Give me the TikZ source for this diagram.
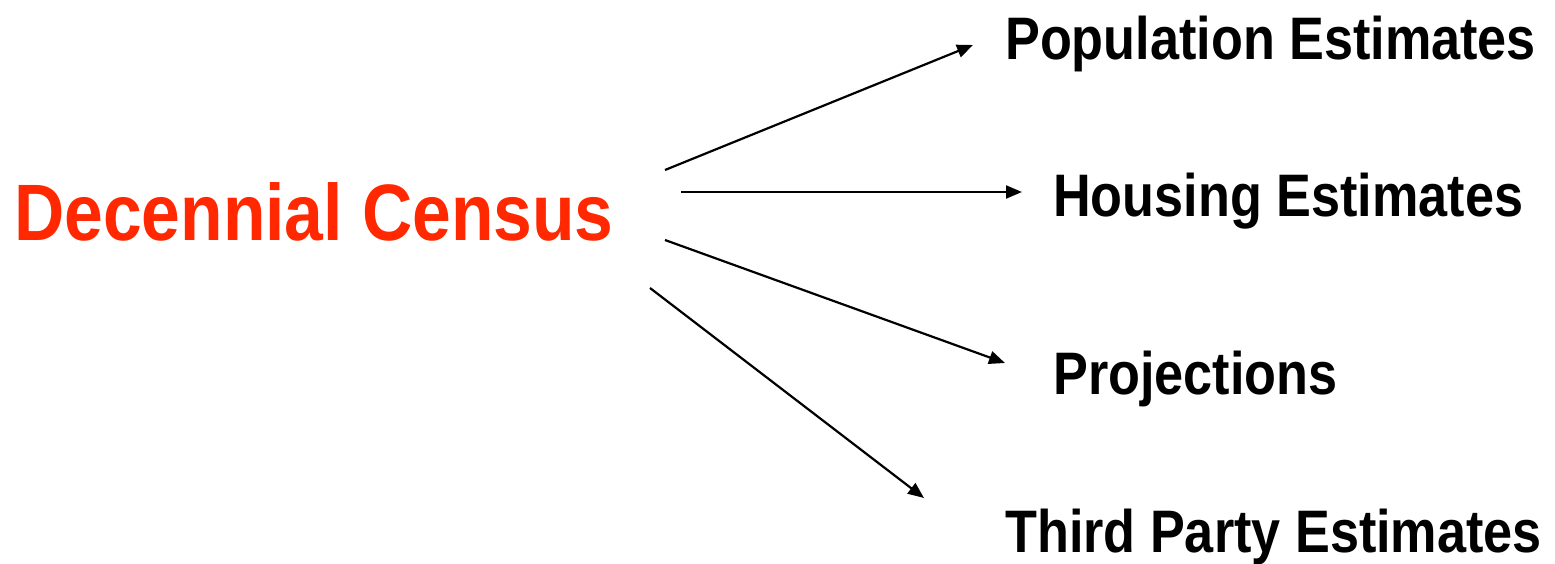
\documentclass[tikz,border=0pt]{standalone}
\usepackage{fontspec}
\setmainfont{Liberation Sans}[FakeStretch=0.87]
\usetikzlibrary{arrows.meta}
\definecolor{censusred}{RGB}{255,40,0}
\tikzset{
  lbl/.style={anchor=base west, inner sep=0pt, font=\bfseries\fontsize{60bp}{72bp}\selectfont, text=black},
  big/.style={anchor=base west, inner sep=0pt, font=\bfseries\fontsize{80bp}{96bp}\selectfont, text=censusred},
  conn/.style={line width=2.2bp, draw=black, -{Triangle[length=16bp,width=13bp]}}
}
\begin{document}
\begin{tikzpicture}[x=1bp,y=-1bp]
\useasboundingbox (0,0) rectangle (1555,564);
\node[big] (dc) at (14,240) {Decennial Census};
\node[lbl] (pop) at (1005,60) {Population Estimates};
\node[lbl] (hou) at (1053,217) {Housing Estimates};
\node[lbl] (pro) at (1053,394) {Projections};
\node[lbl] (tpe) at (1005,552) {Third Party Estimates};
\coordinate (s1) at (665,170);
\coordinate (s2) at (681,192);
\coordinate (s3) at (665,240);
\coordinate (s4) at (650,288);
\coordinate (e1) at (973,45);
\coordinate (e2) at (1022,192);
\coordinate (e3) at (1005,363);
\coordinate (e4) at (924,498);
\draw[conn] (s1) -- (e1);
\draw[conn] (s2) -- (e2);
\draw[conn] (s3) -- (e3);
\draw[conn] (s4) -- (e4);
\end{tikzpicture}
\end{document}
